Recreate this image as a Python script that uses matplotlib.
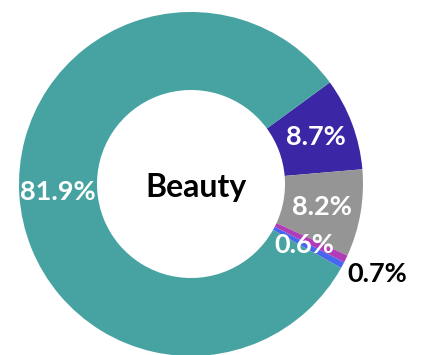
import matplotlib
matplotlib.use("Agg")
import matplotlib.pyplot as plt
import numpy as np

labels = ["Purple", "Gray", "Magenta", "Blue", "Teal"]
values = [8.7, 8.2, 0.7, 0.6, 81.9]
colors = ["#3B26A6", "#959595", "#B23BB8", "#4867EE", "#47A3A2"]
label_text = ["8.7%", "8.2%", "0.7%", "0.6%", "81.9%"]
center_title = "Beauty"

W, H = 421, 355
fig = plt.figure(figsize=(W / 100, H / 100), dpi=100)
ax = fig.add_axes([0, 0, 1, 1])

cx, cy, R = 191, 184, 172
inner = 94 / 172
width = 1 - inner
start = 36.2

wedges, _ = ax.pie(values, colors=colors, startangle=start, counterclock=False,
                   radius=1, wedgeprops=dict(width=width, edgecolor="none"))

ax.set_xlim(-cx / R, (W - cx) / R)
ax.set_ylim(-(H - cy) / R, cy / R)
ax.set_aspect("equal")
ax.axis("off")

font = "Lato"
mid_r = 1 - width / 2
for i, w in enumerate(wedges):
    ang = np.deg2rad((w.theta1 + w.theta2) / 2)
    if label_text[i] == "0.7%":
        r, col = 1.2, "black"
    elif label_text[i] == "0.6%":
        r, col = 0.75, "white"
    else:
        r, col = mid_r, "white"
    ax.text(r * np.cos(ang), r * np.sin(ang), label_text[i], ha="center", va="center",
            color=col, fontsize=19.5, fontweight="bold", family=font)

ax.text(0.03, -0.02, center_title, ha="center", va="center", color="black",
        fontsize=23, fontweight="bold", family=font)

fig.savefig("out.png", dpi=100)
